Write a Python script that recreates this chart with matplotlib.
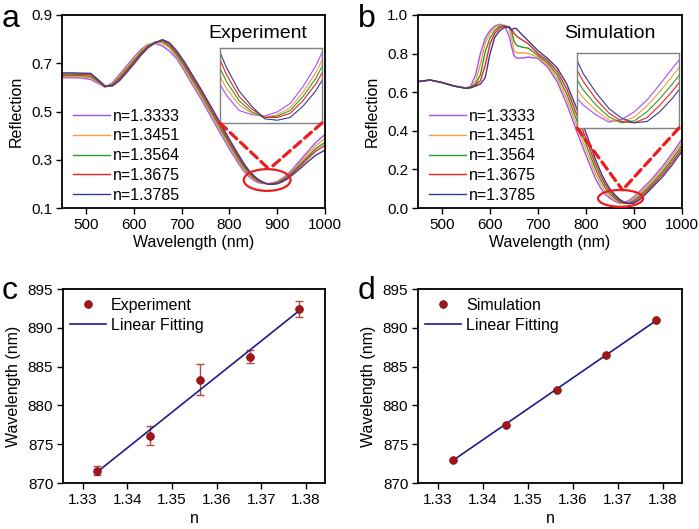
import numpy as np
import matplotlib
matplotlib.use("Agg")
import matplotlib.pyplot as plt
from matplotlib.patches import Ellipse, ConnectionPatch

plt.rcParams['font.family'] = ['Liberation Sans', 'DejaVu Sans']

# ---- data ----
labels = ['n=1.3333', 'n=1.3451', 'n=1.3564', 'n=1.3675', 'n=1.3785']
colors = ['#a64dff', '#f5a033', '#2e9a2e', '#ee2222', '#3a3a8c']

# panel a: measured reflection spectra
wl_a = [450, 470, 490, 510, 525, 540, 555, 570, 585, 600, 615, 630, 645, 660, 675, 690,
        705, 720, 740, 760, 780, 800, 820, 830, 840, 850, 860, 870, 880, 890, 900, 910,
        920, 930, 940, 950, 960, 980, 1000]
r_a_1 = [.640, .640, .639, .633, .617, .600, .619, .653, .689, .724, .757, .778, .782, .772, .750, .719,
         .671, .620, .555, .484, .414, .345, .282, .254, .232, .216, .205, .202, .201, .204, .210, .222,
         .237, .256, .280, .302, .325, .370, .405]
r_a_2 = [.645, .645, .644, .640, .621, .602, .616, .646, .682, .717, .751, .776, .787, .782, .765, .727,
         .680, .630, .565, .495, .425, .355, .291, .262, .238, .221, .209, .203, .200, .202, .207, .218,
         .232, .250, .272, .293, .315, .357, .388]
r_a_3 = [.650, .650, .649, .645, .625, .603, .612, .640, .675, .710, .745, .772, .788, .790, .770, .735,
         .690, .640, .575, .505, .435, .365, .300, .270, .245, .226, .212, .204, .200, .201, .205, .215,
         .228, .245, .265, .285, .305, .345, .372]
r_a_4 = [.655, .655, .654, .652, .629, .604, .608, .634, .668, .703, .739, .768, .786, .795, .778, .743,
         .700, .650, .585, .516, .446, .375, .309, .278, .252, .231, .215, .206, .200, .200, .203, .212,
         .224, .240, .258, .277, .297, .335, .360]
r_a_5 = [.660, .660, .659, .658, .633, .606, .605, .627, .661, .696, .733, .764, .785, .798, .785, .751,
         .709, .660, .595, .526, .456, .385, .318, .286, .258, .236, .219, .208, .199, .198, .200, .208,
         .219, .234, .250, .267, .285, .318, .340]

# panel b: simulated reflection spectra
wl_b = [450, 475, 500, 525, 550, 560, 570, 580, 590, 600, 610, 620, 630, 640, 645, 650, 655, 660,
        670, 680, 700, 720, 740, 760, 780, 800, 820, 830, 840, 850, 860, 870, 880, 890, 900, 910,
        920, 930, 940, 960, 980, 1000]
r_b_1 = [.655, .663, .650, .632, .622, .632, .690, .800, .880, .920, .943, .952, .945, .890, .835, .790, .778, .776,
         .778, .782, .775, .730, .654, .538, .402, .272, .150, .106, .071, .050, .035, .024, .028, .040, .058, .082,
         .107, .131, .158, .217, .285, .357]
r_b_2 = [.655, .663, .650, .632, .622, .628, .655, .745, .855, .905, .935, .948, .946, .930, .880, .815, .805, .803,
         .805, .800, .782, .741, .672, .564, .431, .301, .175, .127, .088, .061, .042, .027, .024, .032, .049, .071,
         .095, .120, .147, .204, .270, .341]
r_b_3 = [.655, .663, .650, .632, .621, .626, .643, .690, .810, .880, .920, .942, .945, .938, .915, .865, .845, .838,
         .832, .828, .790, .752, .690, .590, .460, .330, .200, .148, .105, .073, .050, .032, .023, .026, .040, .060,
         .083, .108, .135, .190, .255, .325]
r_b_4 = [.655, .663, .650, .632, .620, .624, .636, .660, .740, .850, .905, .932, .942, .938, .925, .905, .892, .882,
         .866, .850, .800, .763, .708, .616, .489, .359, .225, .169, .122, .086, .059, .038, .025, .023, .031, .050,
         .072, .097, .123, .177, .240, .309]
r_b_5 = [.655, .663, .650, .632, .620, .623, .632, .642, .675, .800, .885, .918, .935, .938, .922, .931, .930, .915,
         .890, .865, .815, .775, .726, .642, .519, .389, .250, .190, .139, .098, .069, .045, .030, .023, .025, .040,
         .061, .086, .112, .163, .225, .294]

# panels c, d: resonance wavelength vs refractive index
n_vals = [1.3333, 1.3451, 1.3564, 1.3675, 1.3785]
wl_exp = [871.6, 876.1, 883.3, 886.3, 892.4]
err_exp = [0.6, 1.2, 2.0, 0.8, 1.0]
wl_sim = [873.0, 877.5, 882.0, 886.5, 891.0]

W, H = 699, 529
fig = plt.figure(figsize=(W / 100, H / 100), dpi=100)


def px_axes(x0, y0, x1, y1):
    return fig.add_axes([x0 / W, 1 - y1 / H, (x1 - x0) / W, (y1 - y0) / H])


def style(ax):
    for s in ax.spines.values():
        s.set_linewidth(1.3)
    ax.tick_params(direction='out', length=4, width=1, labelsize=11, top=False, right=False, pad=3)


def spectra_panel(ax, wl, curves, ylim, yticks, title, inset_rect, inset_xlim, inset_ylim, ell):
    for r, c, lab in zip(curves, colors, labels):
        ax.plot(wl, r, color=c, lw=1.0, label=lab)
    ax.set_xlim(450, 1000)
    ax.set_ylim(*ylim)
    ax.set_xticks([500, 600, 700, 800, 900, 1000])
    ax.set_yticks(yticks)
    ax.set_xlabel('Wavelength (nm)', fontsize=11.5, labelpad=2)
    ax.set_ylabel('Reflection', fontsize=11.5, labelpad=5)
    style(ax)
    ax.text(0.555, 0.88, title, transform=ax.transAxes, fontsize=14)
    ax.legend(loc='upper left', bbox_to_anchor=(0.043, 0.515), frameon=False, fontsize=11.5,
              handlelength=2.3, handletextpad=0.2, labelspacing=0.3, borderaxespad=0, borderpad=0)
    e = Ellipse(ell[:2], ell[2], ell[3], fill=False, color='#ee1c1c', lw=1.6, zorder=5)
    ax.add_patch(e)
    # inset
    ins = px_axes(*inset_rect)
    for r, c in zip(curves, colors):
        ins.plot(wl, r, color=c, lw=0.8)
    ins.set_xlim(*inset_xlim)
    ins.set_ylim(*inset_ylim)
    ins.set_xticks([])
    ins.set_yticks([])
    for s in ins.spines.values():
        s.set_color('#808080')
        s.set_linewidth(1)
    top = (ell[0] + 4, ell[1] + ell[3] / 2)
    for corner in [(0, 0), (1, 0)]:
        cp = ConnectionPatch(xyA=corner, coordsA=ins.transAxes, xyB=top, coordsB=ax.transData,
                             color='#ee1c1c', lw=2.3, linestyle=(0, (2.8, 1.6)))
        fig.add_artist(cp)


ax_a = px_axes(62, 15, 325, 208)
spectra_panel(ax_a, wl_a, [r_a_1, r_a_2, r_a_3, r_a_4, r_a_5], (0.1, 0.9), [0.1, 0.3, 0.5, 0.7, 0.9],
              'Experiment', (220, 48, 322, 123), (845, 925), (0.196, 0.25), (879, 0.216, 98, 0.09))
ax_a.set_yticklabels(['0.1', '0.3', '0.5', '0.7', '0.9'])

ax_b = px_axes(418, 15, 682, 208)
spectra_panel(ax_b, wl_b, [r_b_1, r_b_2, r_b_3, r_b_4, r_b_5], (0.0, 1.0), [0, 0.2, 0.4, 0.6, 0.8, 1.0],
              'Simulation', (577, 53, 679, 128), (845, 925), (0.015, 0.13), (872, 0.05, 94, 0.087))
ax_b.set_yticklabels(['0.0', '0.2', '0.4', '0.6', '0.8', '1.0'])

marker_kw = dict(marker='o', ms=5.5, color='#a3171b', mec='#7a0d10', mew=0.6, ls='none')


def fit_panel(ax, y, name, err=None):
    k, b = np.polyfit(n_vals, y, 1)
    xs = np.array([n_vals[0], n_vals[-1]])
    if err is not None:
        ax.errorbar(n_vals, y, yerr=err, fmt='none', ecolor='#b54a4a', elinewidth=1, capsize=3, capthick=1, zorder=2)
    ax.plot(n_vals, y, label=name, zorder=4, **marker_kw)
    ax.plot(xs, k * xs + b, color='#1c1c8a', lw=1.2, label='Linear Fitting', zorder=3)
    ax.set_xlim(1.3256, 1.3843)
    ax.set_ylim(870, 895)
    ax.set_xticks([1.33, 1.34, 1.35, 1.36, 1.37, 1.38])
    ax.set_xticklabels(['1.33', '1.34', '1.35', '1.36', '1.37', '1.38'])
    ax.set_yticks([870, 875, 880, 885, 890, 895])
    ax.set_xlabel('n', fontsize=11.5, labelpad=3)
    ax.set_ylabel('Wavelength (nm)', fontsize=11.5, labelpad=5)
    style(ax)
    ax.legend(loc='upper left', bbox_to_anchor=(0.025, 0.955), frameon=False, fontsize=11.5, numpoints=1,
              handlelength=2.3, handletextpad=0.3, labelspacing=0.3, borderaxespad=0, borderpad=0)


ax_c = px_axes(63, 289, 325, 483)
fit_panel(ax_c, wl_exp, 'Experiment', err_exp)
ax_d = px_axes(418, 289, 682, 483)
fit_panel(ax_d, wl_sim, 'Simulation')

for lab, x, y in [('a', 2, 27), ('b', 358, 27), ('c', 2, 299), ('d', 358, 299)]:
    fig.text(x / W, 1 - y / H, lab, fontsize=23, va='baseline', ha='left')

fig.savefig('out.png', dpi=100)
